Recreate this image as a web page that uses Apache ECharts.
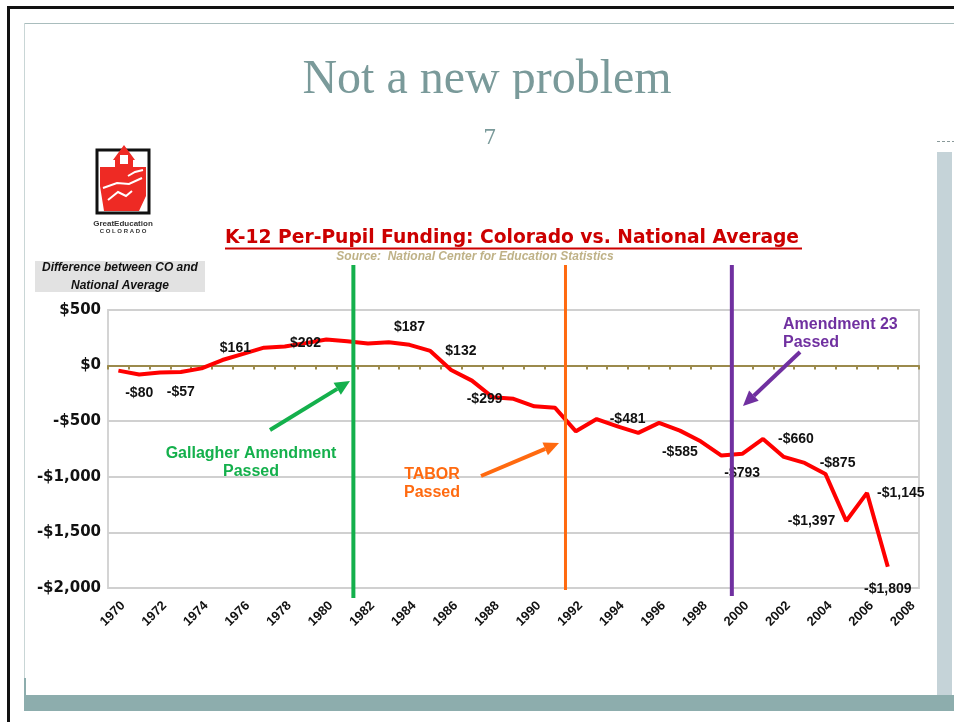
<!DOCTYPE html>
<html>
<head>
<meta charset="utf-8">
<title>Not a new problem</title>
<script src="https://cdn.jsdelivr.net/npm/echarts@6/dist/echarts.min.js"></script>
<style>
  html, body { margin: 0; padding: 0; background: #fff; }
  #chart { width: 954px; height: 722px; }
</style>
</head>
<body>
<div id="chart"></div>
<script>
// data
const years = ['1970', '1971', '1972', '1973', '1974', '1975', '1976', '1977', '1978', '1979',
  '1980', '1981', '1982', '1983', '1984', '1985', '1986', '1987', '1988', '1989',
  '1990', '1991', '1992', '1993', '1994', '1995', '1996', '1997', '1998', '1999',
  '2000', '2001', '2002', '2003', '2004', '2005', '2006', '2007', '2008']
const funding = [-45, -80, -62, -57, -25, 50, 105, 161, 172, 202,
  235, 218, 198, 210, 187, 132, -40, -135, -285, -299,
  -366, -380, -591, -481, -546, -605, -515, -585, -681, -809,
  -793, -660, -821, -875, -974, -1397, -1145, -1809, null]
const labelledYears = ['1971', '1973', '1977', '1979', '1984', '1985', '1989', '1993',
  '1997', '2000', '2001', '2003', '2005', '2006', '2007']
const yTicks = [-2000, -1500, -1000, -500, 0, 500]
const eventNames = ['Gallagher Amendment', 'TABOR', 'Amendment 23']
const eventYears = [1981.3, 1991.5, 1999.5]

// label placement per labelled year: [position, distance]
const labelPlace = {
  1971: ['bottom', 11], 1973: ['bottom', 12], 1977: ['left', 12], 1979: ['inside', 0],
  1984: ['top', 10], 1985: ['right', 14], 1989: ['left', 10], 1993: ['right', 12],
  1997: ['bottom', 13], 2000: ['bottom', 11], 2001: ['right', 14], 2003: ['right', 14],
  2005: ['left', 10], 2006: ['right', 9], 2007: ['bottom', 14]
}
const eventStyle = [
  { color: '#14b04c', width: 4, below: 10 },
  { color: '#ff6a10', width: 3, below: 2 },
  { color: '#7030a0', width: 4, below: 8 }
]

const money = v => (v < 0 ? '-$' : '$') + Math.abs(v).toLocaleString('en-US')

function arrow(x1, y1, x2, y2, color) {
  const a = Math.atan2(y2 - y1, x2 - x1)
  const len = 15
  const half = 7
  const bx = x2 - len * Math.cos(a)
  const by = y2 - len * Math.sin(a)
  return [
    { type: 'line', z: 10, shape: { x1: x1, y1: y1, x2: bx, y2: by }, style: { stroke: color, lineWidth: 4 } },
    {
      type: 'polygon', z: 10,
      shape: { points: [[x2, y2], [bx + half * Math.sin(a), by - half * Math.cos(a)], [bx - half * Math.sin(a), by + half * Math.cos(a)]] },
      style: { fill: color }
    }
  ]
}

function txt(text, x, y, font, color, align) {
  return {
    type: 'text', z: 10,
    style: { text: text, x: x, y: y, font: font, fill: color, align: align || 'center', textAlign: align || 'center', verticalAlign: 'middle', textVerticalAlign: 'middle', lineHeight: 18 }
  }
}

const lineData = funding.map((v, i) => {
  const p = labelPlace[years[i]]
  if (!labelledYears.includes(years[i]) || !p) return v
  return { value: v, label: { show: true, position: p[0], distance: p[1] } }
})

// slide decoration
const slide = [
  { type: 'rect', z: 0, shape: { x: 7, y: 6, width: 947, height: 3 }, style: { fill: '#111' } },
  { type: 'rect', z: 0, shape: { x: 7, y: 6, width: 3, height: 716 }, style: { fill: '#111' } },
  { type: 'line', z: 0, shape: { x1: 24, y1: 23.5, x2: 954, y2: 23.5 }, style: { stroke: '#a9bdbd', lineWidth: 1 } },
  { type: 'line', z: 0, shape: { x1: 24.5, y1: 23, x2: 24.5, y2: 695 }, style: { stroke: '#c9d6d6', lineWidth: 1 } },
  { type: 'line', z: 0, shape: { x1: 937, y1: 141.5, x2: 954, y2: 141.5 }, style: { stroke: '#8a9a9a', lineWidth: 1, lineDash: [3, 2] } },
  { type: 'rect', z: 0, shape: { x: 937, y: 152, width: 15, height: 543 }, style: { fill: '#c5d3d8' } },
  { type: 'rect', z: 0, shape: { x: 24, y: 678, width: 2, height: 17 }, style: { fill: '#8dadad' } },
  { type: 'rect', z: 0, shape: { x: 24, y: 695, width: 930, height: 16 }, style: { fill: '#8dadad' } },
  txt('Not a new problem', 487, 80, '48px "Liberation Serif"', '#7a9a9a'),
  { type: 'rect', z: 11, shape: { x: 280, y: 99, width: 420, height: 12 }, style: { fill: '#fff' } },
  txt('7', 490, 139, '21px "DejaVu Serif"', '#7a9a9a')
]

// GreatEducation Colorado logo, simplified
const logo = [
  { type: 'rect', z: 5, shape: { x: 97, y: 150, width: 52, height: 63 }, style: { fill: '#fff', stroke: '#111', lineWidth: 3 } },
  {
    type: 'polygon', z: 6,
    shape: { points: [[113, 160], [124, 145], [135, 160], [133, 160], [133, 167], [146, 167], [146, 196], [139, 211], [104, 211], [100, 186], [100, 167], [115, 167], [115, 160]] },
    style: { fill: '#ee2a24' }
  },
  { type: 'rect', z: 7, shape: { x: 120, y: 155, width: 8, height: 9 }, style: { fill: '#fff' } },
  { type: 'polyline', z: 7, shape: { points: [[103, 188], [117, 183], [129, 184], [142, 178]] }, style: { stroke: '#fff', lineWidth: 2, fill: null } },
  { type: 'polyline', z: 7, shape: { points: [[108, 200], [118, 192], [126, 196], [132, 191]] }, style: { stroke: '#fff', lineWidth: 2, fill: null } },
  { type: 'polyline', z: 7, shape: { points: [[128, 176], [135, 172], [143, 170]] }, style: { stroke: '#fff', lineWidth: 2, fill: null } },
  txt('GreatEducation', 123, 224, 'bold 8px "Liberation Sans"', '#333'),
  txt('C O L O R A D O', 123, 231, 'bold 6px "Liberation Sans"', '#333')
]

// chart heading, y name box, annotations
const notes = [
  txt('K-12 Per-Pupil Funding: Colorado vs. National Average', 512, 238, 'bold 18.7px "DejaVu Sans"', '#cc0000'),
  { type: 'rect', z: 10, shape: { x: 225, y: 247.5, width: 577, height: 2 }, style: { fill: '#cc0000' } },
  txt('Source:  National Center for Education Statistics', 475, 257, 'italic bold 12px "Liberation Sans"', '#bfb287'),
  { type: 'rect', z: 5, shape: { x: 35, y: 261, width: 170, height: 31 }, style: { fill: '#e2e2e2' } },
  txt('Difference between CO and\nNational Average', 120, 276.5, 'italic bold 12px "Liberation Sans"', '#111'),
  txt(eventNames[0] + '\nPassed', 251, 462.5, 'bold 16px "Liberation Sans"', '#14b04c'),
  txt(eventNames[1] + '\nPassed', 432, 483.5, 'bold 16px "Liberation Sans"', '#ff6a10'),
  txt(eventNames[2] + '\nPassed', 783, 334, 'bold 16px "Liberation Sans"', '#7030a0', 'left')
].concat(
  arrow(270, 430, 350, 381, '#14b04c'),
  arrow(481, 476, 559, 443, '#ff6a10'),
  arrow(800, 352, 743, 406, '#7030a0')
)

const myChart = echarts.init(document.getElementById('chart'))
const option = {
  animation: false,
  textStyle: { fontFamily: '"Liberation Sans", Arial, sans-serif' },
  grid: {
    left: 108, right: 35, top: 310, bottom: 134,
    show: true, borderColor: '#d4d4d4', borderWidth: 2, backgroundColor: 'transparent'
  },
  xAxis: [
    {
      // the zero line with ticks
      type: 'category', data: years, position: 'bottom', boundaryGap: true,
      axisLine: { onZero: true, lineStyle: { color: '#9b8a4c', width: 2 } },
      axisTick: { show: true, interval: 0, length: 4, lineStyle: { color: '#9b8a4c', width: 2 } },
      axisLabel: { show: false },
      splitLine: { show: false }
    },
    {
      // year labels along the bottom
      type: 'category', data: years, position: 'bottom', boundaryGap: true,
      axisLine: { show: false, onZero: false },
      axisTick: { show: false },
      axisLabel: {
        interval: 1, rotate: 45, margin: 11, verticalAlign: 'top',
        color: '#111', fontWeight: 'bold', fontSize: 13
      },
      splitLine: { show: false }
    },
    {
      // hidden year scale for the event lines
      type: 'value', min: 1969.5, max: 2008.5, position: 'top', show: false
    }
  ],
  yAxis: {
    type: 'value',
    min: yTicks[0], max: yTicks[yTicks.length - 1], interval: 500,
    axisLine: { show: false },
    axisTick: { show: false },
    axisLabel: {
      margin: 7, color: '#111', fontWeight: 'bold', fontSize: 15, fontFamily: 'DejaVu Sans',
      formatter: money
    },
    splitLine: { lineStyle: { color: '#d0d0d0', width: 2 } }
  },
  series: [
    {
      type: 'line', xAxisIndex: 0, yAxisIndex: 0, z: 2,
      data: lineData,
      // symbols stay invisible, they only carry the value labels
      showSymbol: true, showAllSymbol: true, symbol: 'circle', symbolSize: 2,
      itemStyle: { color: 'rgba(0,0,0,0)' },
      lineStyle: { color: '#ff0000', width: 4 },
      label: {
        show: false, color: '#111', fontWeight: 'bold', fontSize: 14,
        fontFamily: '"Liberation Sans", Arial, sans-serif',
        formatter: p => money(p.value)
      }
    },
    {
      type: 'custom', xAxisIndex: 2, yAxisIndex: 0, z: 4,
      data: eventYears.map(y => [y, 0]),
      encode: { x: 0, y: 1 },
      renderItem: (params, api) => {
        const x = api.coord([api.value(0), 0])[0]
        const cs = params.coordSys
        const st = eventStyle[params.dataIndex]
        return {
          type: 'line',
          shape: { x1: x, y1: cs.y - 45, x2: x, y2: cs.y + cs.height + st.below },
          style: { stroke: st.color, lineWidth: st.width }
        }
      }
    }
  ],
  graphic: { elements: slide.concat(logo, notes) }
}
myChart.setOption(option, true)
window.addEventListener('resize', () => { myChart.resize() })
</script>
</body>
</html>
